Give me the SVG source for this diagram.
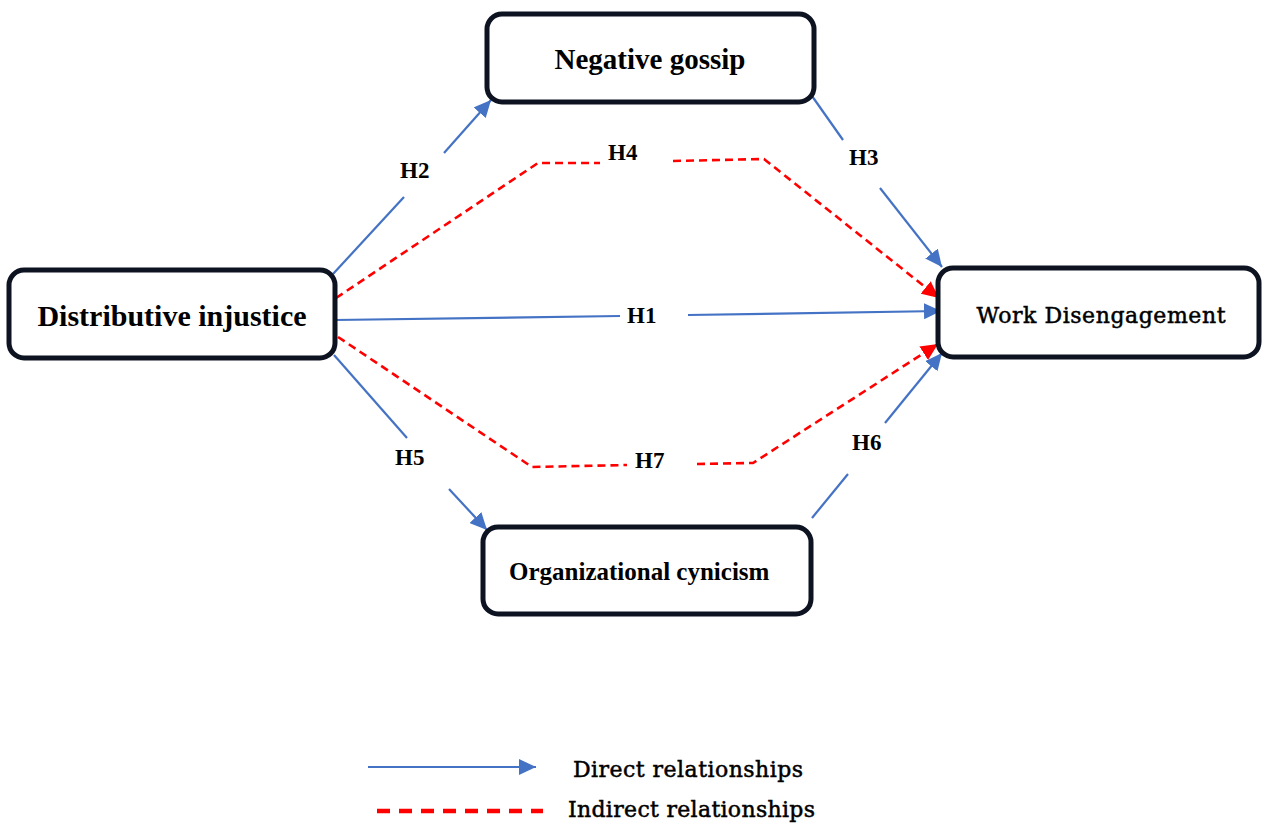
<svg xmlns="http://www.w3.org/2000/svg" width="1262" height="823" viewBox="0 0 1262 823">
<style>
.box{fill:#fff;stroke:#0d1321;stroke-width:5}
.tb{font-family:"Liberation Serif",serif;font-weight:bold;fill:#000}
.tp{font-family:"DejaVu Serif",serif;fill:#000;stroke:#000;stroke-width:0.5}
.h{font-family:"Liberation Serif",serif;font-weight:bold;font-size:23px;fill:#000}
.d{fill:none;stroke:#4472C4;stroke-width:2.2}
.i{fill:none;stroke:#FF0000;stroke-width:2.6;stroke-dasharray:8 5}
</style>
<defs>
<marker id="ab" markerUnits="userSpaceOnUse" markerWidth="18" markerHeight="16" refX="17" refY="8" orient="auto"><path d="M0,0 L17,8 L0,16 z" fill="#4472C4"/></marker>
<marker id="ar" markerUnits="userSpaceOnUse" markerWidth="18" markerHeight="16" refX="17" refY="8" orient="auto"><path d="M0,0 L17,8 L0,16 z" fill="#FF0000"/></marker>
</defs>
<rect width="1262" height="823" fill="#fff"/>
<g id="connectors">
<path class="d" d="M333,274 L404,197"/>
<path class="d" d="M444,153 L491,100" marker-end="url(#ab)"/>
<path class="d" d="M812,96 L843,140"/>
<path class="d" d="M880,188 L942,267" marker-end="url(#ab)"/>
<path class="d" d="M335,320 L620,316"/>
<path class="d" d="M688,315 L941,311" marker-end="url(#ab)"/>
<path class="d" d="M334,355 L407,438"/>
<path class="d" d="M449,489 L487,530" marker-end="url(#ab)"/>
<path class="d" d="M812,518 L848,474"/>
<path class="d" d="M885,423 L942,353" marker-end="url(#ab)"/>
<path class="i" d="M336,298 L538,163 L600,163"/>
<path class="i" d="M673,161 L764,159 L939,298" marker-end="url(#ar)"/>
<path class="i" d="M338,337 L532,467 L627,465"/>
<path class="i" d="M697,464 L753,463 L938,344" marker-end="url(#ar)"/>
<path class="d" d="M368,767 L536,767" marker-end="url(#ab)"/>
<path fill="none" stroke="#FF0000" stroke-width="4.5" stroke-dasharray="13 9" d="M377,811 L543,811"/>
</g>
<g id="labels">
<text class="h" x="400" y="178">H2</text>
<text class="h" x="608" y="160">H4</text>
<text class="h" x="627" y="323">H1</text>
<text class="h" x="849" y="165">H3</text>
<text class="h" x="395" y="465">H5</text>
<text class="h" x="635" y="468">H7</text>
<text class="h" x="852" y="450">H6</text>
</g>
<g id="node-distributive">
<rect class="box" x="9" y="270" width="326" height="88" rx="15"/>
<text class="tb" x="172" y="326" font-size="30" text-anchor="middle">Distributive injustice</text>
</g>
<g id="node-gossip">
<rect class="box" x="487" y="14" width="327" height="88" rx="15"/>
<text class="tb" x="650" y="69" font-size="29" text-anchor="middle">Negative gossip</text>
</g>
<g id="node-work">
<rect class="box" x="938" y="268" width="321" height="89" rx="15"/>
<text class="tp" x="1101" y="323" font-size="22" text-anchor="middle" textLength="249">Work Disengagement</text>
</g>
<g id="node-cynicism">
<rect class="box" x="483" y="527" width="328" height="87" rx="15"/>
<text class="tb" x="509" y="580" font-size="25">Organizational cynicism</text>
</g>
<g id="legend">
<text class="tp" x="573" y="777" font-size="22" textLength="230">Direct relationships</text>
<text class="tp" x="568" y="817" font-size="22" textLength="247">Indirect relationships</text>
</g>
</svg>
